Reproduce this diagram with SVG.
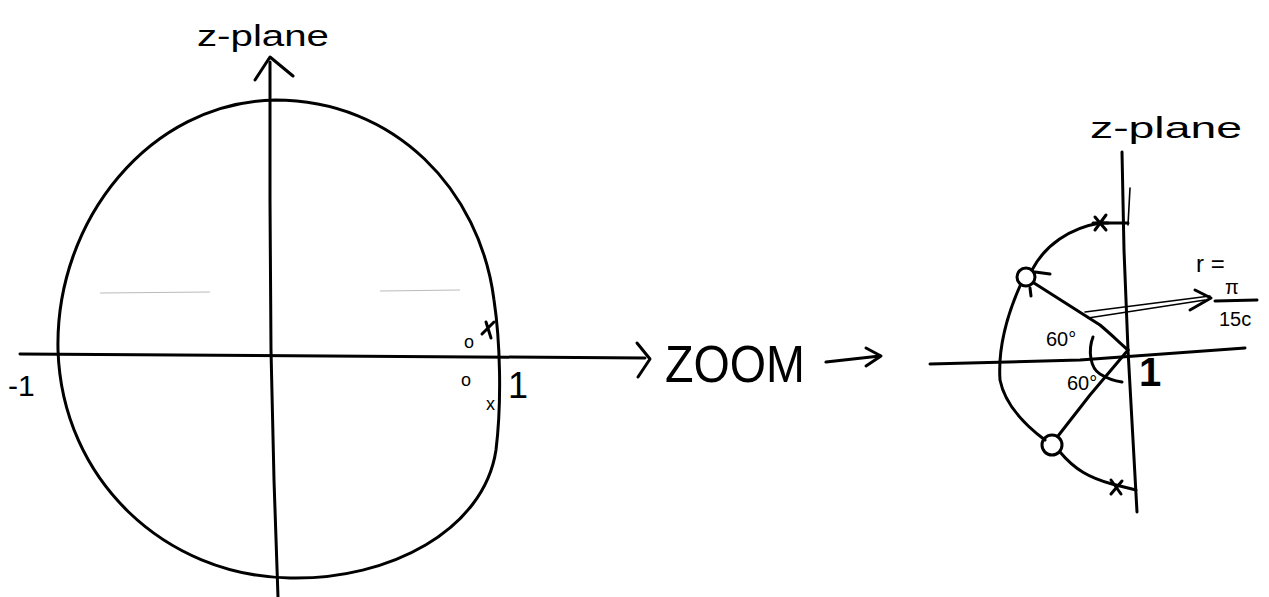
<svg xmlns="http://www.w3.org/2000/svg" width="1269" height="597" viewBox="0 0 1269 597">
<style>
.ink{fill:none;stroke:#000;stroke-width:3;stroke-linecap:round;stroke-linejoin:round}
.thin{fill:none;stroke:#000;stroke-width:1.6;stroke-linecap:round}
.faint{fill:none;stroke:#bbb;stroke-width:1}
.t{font-family:"Liberation Sans",Arial,sans-serif;fill:#000}
</style>
<rect width="1269" height="597" fill="#fff"/>
<g id="left-plane">
<path class="ink" d="M275,100 C395,100 480,190 494,300 C500,340 502,400 496,450 C484,530 390,580 290,578 C165,576 62,480 58,350 C55,220 150,102 275,100 Z"/>
<path class="ink" d="M270,62 L270,200 L271,350 L274,480 L278,597"/>
<path class="ink" d="M255,80 L270,57 L293,76"/>
<path class="ink" d="M20,354 L645,358"/>
<path class="ink" d="M637,343 L650,359 L638,377"/>
<path class="faint" d="M100,293 L210,292 M380,291 L460,290"/>
<text class="t" x="197" y="46" font-size="30" textLength="132" lengthAdjust="spacingAndGlyphs">z-plane</text>
<text class="t" x="8" y="396" font-size="30">-1</text>
<text class="t" x="464" y="348" font-size="18">o</text>
<path class="ink" d="M482,334 L494,322 M486,322 L491,338"/>
<text class="t" x="461" y="386" font-size="18">o</text>
<text class="t" x="486" y="410" font-size="18">x</text>
<text class="t" x="508" y="398" font-size="36">1</text>
</g>
<g id="zoom-label">
<text class="t" x="665" y="382" font-size="52" textLength="140" lengthAdjust="spacingAndGlyphs">ZOOM</text>
<path class="ink" d="M826,362 L880,356"/>
<path class="ink" d="M866,348 L881,356 L866,366"/>
</g>
<g id="right-plane">
<text class="t" x="1090" y="138" font-size="30" textLength="152" lengthAdjust="spacingAndGlyphs">z-plane</text>
<path class="ink" d="M1122,152 L1124,250 L1128,350 L1133,440 L1137,512"/>
<path class="thin" d="M1130,188 L1128,225"/>
<path class="ink" d="M930,364 L1080,360 L1245,348"/>
<path class="ink" d="M1128,223 L1100,223"/>
<path class="ink" d="M1100,223 C1070,228 1045,245 1032,270"/>
<circle class="ink" cx="1026" cy="277" r="9"/>
<path class="ink" d="M1035,272 L1050,274 M1030,288 L1031,296"/>
<path class="ink" d="M1020,286 C1005,320 998,350 1000,380 C1005,405 1025,425 1045,440"/>
<path class="ink" d="M1034,283 L1100,325 C1112,335 1122,345 1128,350"/>
<path class="ink" d="M1128,350 L1090,395 L1058,436"/>
<circle class="ink" cx="1052" cy="445" r="10"/>
<path class="ink" d="M1060,452 C1075,470 1090,478 1112,484 L1136,490"/>
<path class="ink" d="M1093,337 C1088,350 1090,368 1100,374 C1108,379 1115,381 1122,382"/>
<path class="ink" d="M1095,217 L1106,230 M1106,215 L1095,230 M1093,223 L1108,223"/>
<path class="ink" d="M1111,480 L1121,494 M1122,481 L1111,494"/>
<path class="thin" d="M1085,312 L1210,296 M1088,318 L1205,300"/>
<path class="ink" d="M1195,290 L1211,298 L1190,310"/>
<text class="t" x="1046" y="346" font-size="20">60°</text>
<text class="t" x="1067" y="390" font-size="20">60°</text>
<text class="t" x="1139" y="386" font-size="40" font-weight="bold">1</text>
<text class="t" x="1196" y="272" font-size="24">r =</text>
<text class="t" x="1225" y="294" font-size="20">π</text>
<path class="ink" d="M1215,301 L1257,300"/>
<text class="t" x="1219" y="326" font-size="20">15c</text>
</g>
</svg>
